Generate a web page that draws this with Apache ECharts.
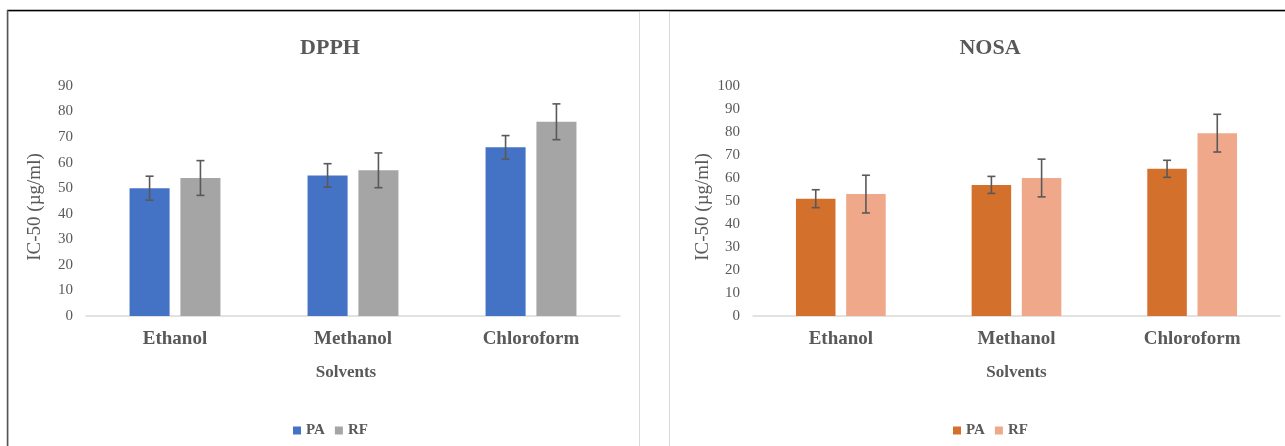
<!DOCTYPE html>
<html>
<head>
<meta charset="utf-8">
<script src="https://cdn.jsdelivr.net/npm/echarts@6/dist/echarts.min.js"></script>
<style>
html,body{margin:0;padding:0;background:#fff;}
#chart{width:1285px;height:446px;}
</style>
</head>
<body>
<div id="chart"></div>
<script>
// ---- data ----
const categories = ['Ethanol', 'Methanol', 'Chloroform'];
const dpphPA = [50, 55, 66];
const dpphRF = [54, 57, 76];
const dpphPAErr = [4.7, 4.6, 4.6];
const dpphRFErr = [6.8, 6.8, 7.0];
const nosaPA = [51, 57, 64];
const nosaRF = [53, 60, 79.5];
const nosaPAErr = [3.9, 3.7, 3.7];
const nosaRFErr = [8.2, 8.2, 8.2];
const seriesNames = ['PA', 'RF'];
const panelTitles = ['DPPH', 'NOSA'];
const yAxisName = 'IC-50 (µg/ml)';
const xAxisName = 'Solvents';

const SERIF = '"Liberation Serif", "Times New Roman", serif';
const GREY = '#595959';
const BAR_W = 0.225;   // fraction of band
const GAP = 0.27;      // fraction of bar width

function errSeries(xi, yi, vals, errs, side) {
  return {
    type: 'custom',
    xAxisIndex: xi, yAxisIndex: yi,
    silent: true, z: 10,
    data: vals.map((v, i) => [i, v, errs[i]]),
    renderItem: function (params, api) {
      const idx = api.value(0);
      const v = api.value(1), e = api.value(2);
      const band = api.size([1, 0])[0];
      const w = band * BAR_W;
      const off = side * (w + w * GAP) / 2;
      const top = api.coord([idx, v + e]);
      const bot = api.coord([idx, v - e]);
      const x = top[0] + off;
      const cap = 4;
      const st = { stroke: GREY, lineWidth: 1.6 };
      return {
        type: 'group',
        children: [
          { type: 'line', shape: { x1: x, y1: top[1], x2: x, y2: bot[1] }, style: st },
          { type: 'line', shape: { x1: x - cap, y1: top[1], x2: x + cap, y2: top[1] }, style: st },
          { type: 'line', shape: { x1: x - cap, y1: bot[1], x2: x + cap, y2: bot[1] }, style: st }
        ]
      };
    }
  };
}

function xAxisCfg(gi, namePad) {
  return {
    type: 'category', gridIndex: gi, data: categories,
    axisTick: { show: false },
    axisLine: { lineStyle: { color: '#d9d9d9', width: 1.5 } },
    axisLabel: { margin: 14, fontFamily: SERIF, fontWeight: 'bold', fontSize: 19, color: GREY },
    name: xAxisName, nameLocation: 'middle', nameGap: 48,
    nameTextStyle: { fontFamily: SERIF, fontWeight: 'bold', fontSize: 17, color: GREY, padding: namePad }
  };
}
function yAxisCfg(gi, max, gap) {
  return {
    type: 'value', gridIndex: gi, min: 0, max: max, interval: 10,
    axisLine: { show: false }, axisTick: { show: false },
    splitLine: { show: false },
    axisLabel: { margin: 13, fontFamily: SERIF, fontSize: 15, color: GREY },
    name: yAxisName, nameLocation: 'middle', nameRotate: 90, nameGap: gap,
    nameTextStyle: { fontFamily: SERIF, fontSize: 19, color: GREY, padding: [0, 12, 0, 0] }
  };
}

const barCommon = { type: 'bar', barWidth: (BAR_W * 100) + '%', barGap: (GAP * 100) + '%' };

const option = {
  animation: false,
  backgroundColor: '#fff',
  title: [
    { text: panelTitles[0], left: 325, top: 32, textAlign: 'center',
      textStyle: { fontFamily: SERIF, fontWeight: 'bold', fontSize: 22, color: GREY } },
    { text: panelTitles[1], left: 985, top: 32, textAlign: 'center',
      textStyle: { fontFamily: SERIF, fontWeight: 'bold', fontSize: 22, color: GREY } }
  ],
  legend: [
    { left: 288, top: 418, itemWidth: 8, itemHeight: 8, itemGap: 10, icon: 'rect',
      data: [seriesNames[0], seriesNames[1]],
      textStyle: { fontFamily: SERIF, fontWeight: 'bold', fontSize: 15, color: GREY } },
    { left: 948, top: 418, itemWidth: 8, itemHeight: 8, itemGap: 10, icon: 'rect',
      data: [seriesNames[0] + ' ', seriesNames[1] + ' '],
      formatter: n => n.trim(),
      textStyle: { fontFamily: SERIF, fontWeight: 'bold', fontSize: 15, color: GREY } }
  ],
  grid: [
    { left: 86, right: 665, top: 86, bottom: 130 },
    { left: 753, right: 5, top: 86, bottom: 130 }
  ],
  xAxis: [xAxisCfg(0, [0, 14, 0, 0]), xAxisCfg(1, [0, 0, 10, 0])],
  yAxis: [yAxisCfg(0, 90, 41), yAxisCfg(1, 100, 40)],
  graphic: [
    { type: 'rect', silent: true, z: -1, shape: { x: 8.5, y: 11.5, width: 631, height: 445 },
      style: { fill: 'none', stroke: '#d9d9d9', lineWidth: 1 } },
    { type: 'rect', silent: true, z: -1, shape: { x: 669.5, y: 11.5, width: 640, height: 445 },
      style: { fill: 'none', stroke: '#d9d9d9', lineWidth: 1 } },
    { type: 'line', silent: true, shape: { x1: 7, y1: 10.5, x2: 1285, y2: 10.5 },
      style: { stroke: '#000', lineWidth: 1.5 } },
    { type: 'line', silent: true, shape: { x1: 7.5, y1: 10, x2: 7.5, y2: 446 },
      style: { stroke: '#555', lineWidth: 1.5 } }
  ],
  series: [
    Object.assign({}, barCommon, { name: seriesNames[0], xAxisIndex: 0, yAxisIndex: 0, data: dpphPA, itemStyle: { color: '#4472C4' } }),
    Object.assign({}, barCommon, { name: seriesNames[1], xAxisIndex: 0, yAxisIndex: 0, data: dpphRF, itemStyle: { color: '#A5A5A5' } }),
    errSeries(0, 0, dpphPA, dpphPAErr, -1),
    errSeries(0, 0, dpphRF, dpphRFErr, 1),
    Object.assign({}, barCommon, { name: seriesNames[0] + ' ', xAxisIndex: 1, yAxisIndex: 1, data: nosaPA, itemStyle: { color: '#D3702C' } }),
    Object.assign({}, barCommon, { name: seriesNames[1] + ' ', xAxisIndex: 1, yAxisIndex: 1, data: nosaRF, itemStyle: { color: '#F0A88A' } }),
    errSeries(1, 1, nosaPA, nosaPAErr, -1),
    errSeries(1, 1, nosaRF, nosaRFErr, 1)
  ]
};

const chart = echarts.init(document.getElementById('chart'), null, { renderer: 'canvas' });
chart.setOption(option);
</script>
</body>
</html>
